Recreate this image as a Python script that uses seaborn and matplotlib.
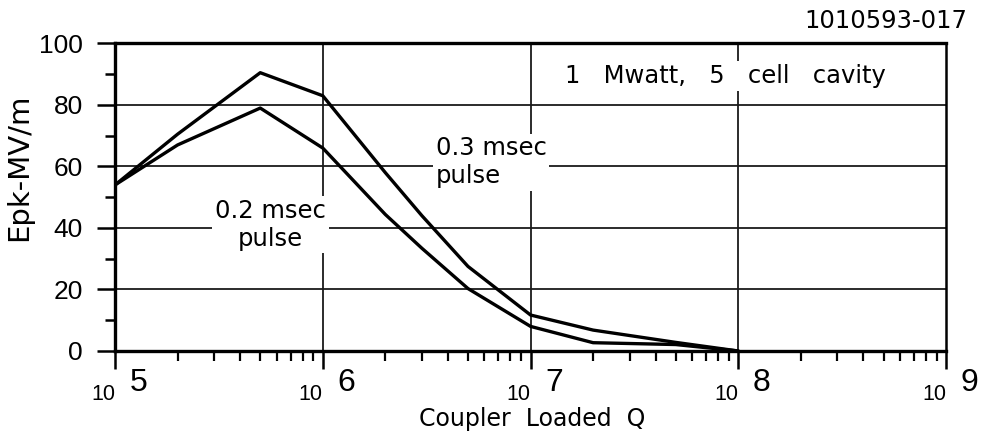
import numpy as np
import pandas as pd
import seaborn as sns
import matplotlib.pyplot as plt
from matplotlib.ticker import FixedLocator, NullFormatter

# values (Epk in MV/m vs coupler loaded Q)
q_values = [1e5, 2e5, 5e5, 1e6, 2e6, 3e6, 5e6, 1e7, 2e7, 5e7, 1e8]
epk_03ms = [54, 70.5, 90.5, 83, 58, 44, 27.5, 11.7, 6.8, 2.8, 0]
epk_02ms = [54, 67, 79, 66, 44.4, 33.4, 20.3, 8, 2.7, 2.1, 0]
y_major = [0, 20, 40, 60, 80, 100]
y_minor = [10, 30, 50, 70, 90]
x_exponents = [5, 6, 7, 8, 9]

df = pd.DataFrame({
    "Q": q_values * 2,
    "Epk": epk_03ms + epk_02ms,
    "pulse": ["0.3 msec"] * len(q_values) + ["0.2 msec"] * len(q_values),
})

sns.set_theme(style="ticks")
plt.rcParams['font.family'] = ['Liberation Sans', 'DejaVu Sans']
plt.rcParams['text.color'] = 'black'
plt.rcParams['axes.labelcolor'] = 'black'
plt.rcParams['xtick.color'] = 'black'
plt.rcParams['ytick.color'] = 'black'
wide = ['DejaVu Sans']  # the scanned lettering is wide / tracked

fig = plt.figure(figsize=(9.9, 4.37), dpi=100)
ax = fig.add_axes([0.1162, 0.1968, 0.8394, 0.7037])

sns.lineplot(data=df, x="Q", y="Epk", hue="pulse", palette=["black", "black"],
             linewidth=2.4, legend=False, ax=ax, zorder=4)

ax.set_xscale("log")
ax.set_xlim(1e5, 1e9)
ax.set_ylim(0, 100)

# grid
for v in y_major[1:-1]:
    ax.axhline(v, color="#1a1a1a", lw=1.3, zorder=1)
for e in x_exponents[1:-1]:
    ax.axvline(10.0 ** e, color="#1a1a1a", lw=1.3, zorder=1)

# spines
for side in ["left", "bottom", "top"]:
    ax.spines[side].set_linewidth(2.4)
ax.spines["right"].set_linewidth(1.8)
for s in ax.spines.values():
    s.set_color("black")

# ticks
ax.yaxis.set_major_locator(FixedLocator(y_major))
ax.yaxis.set_minor_locator(FixedLocator(y_minor))
ax.tick_params(axis="y", which="major", direction="out", length=13, width=1.8,
               labelsize=19, pad=10, left=True)
ax.tick_params(axis="y", which="minor", direction="out", length=7, width=1.8,
               left=True)
ax.tick_params(axis="x", which="major", direction="out", length=13, width=1.8,
               bottom=True)
ax.tick_params(axis="x", which="minor", direction="out", length=7, width=1.6,
               bottom=True)
ax.xaxis.set_major_formatter(NullFormatter())
ax.xaxis.set_minor_formatter(NullFormatter())

# x tick labels: "10" with a large exponent
for e in x_exponents:
    ax.annotate("10", xy=(10.0 ** e, 0), xycoords=("data", "axes fraction"),
                xytext=(0, -35.3), textcoords="offset points",
                ha="right", va="baseline", fontsize=15.5)
    ax.annotate(str(e), xy=(10.0 ** e, 0), xycoords=("data", "axes fraction"),
                xytext=(10.5, -28.5), textcoords="offset points",
                ha="left", va="baseline", fontsize=23)

ax.set_xlabel("Coupler  Loaded  Q", fontsize=17, family=wide)
ax.xaxis.set_label_coords(0.502, -0.183)
ax.set_ylabel("Epk-MV/m", fontsize=21, family=wide)
ax.yaxis.set_label_coords(-0.099, 0.598)

box = dict(facecolor="white", edgecolor="none", pad=2)
ax.text(5.6e5, 41, "0.2 msec\npulse", fontsize=17.5, ha="center", va="center",
        multialignment="center", bbox=box, zorder=3, family=wide)
ax.text(3.5e6, 61.4, "0.3 msec\npulse", fontsize=17.5, ha="left", va="center",
        multialignment="left", bbox=box, zorder=3, family=wide)
ax.text(0.5415, 0.894, "1   Mwatt,   5   cell   cavity", transform=ax.transAxes,
        fontsize=17.5, ha="left", va="center", bbox=box, zorder=3, family=wide)

fig.text(0.977, 0.936, "1010593-017", fontsize=17.5, ha="right", va="baseline",
         family=wide)

fig.savefig("out.png", dpi=100)
